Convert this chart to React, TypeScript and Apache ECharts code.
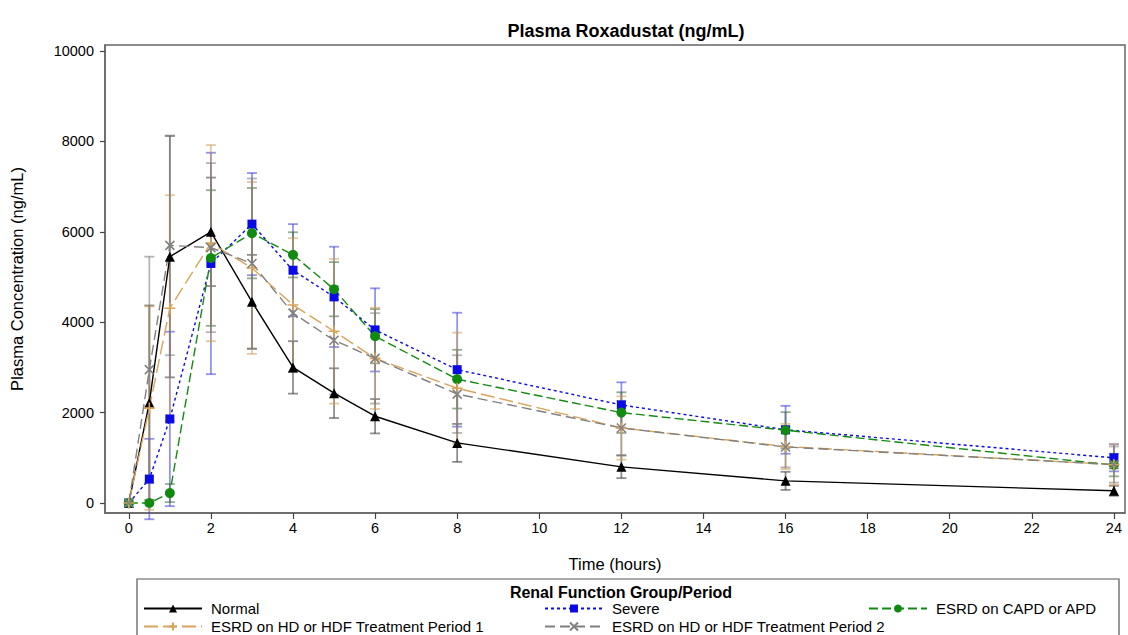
import React, { useEffect, useRef } from "react";
import * as echarts from "echarts";

// Sampling times (hours after dose)
const hours = [0, 0.5, 1, 2, 3, 4, 5, 6, 8, 12, 16, 24];

// Mean plasma concentration (ng/mL) and SD per renal function group
const normalMean = [0, 2220, 5450, 6000, 4450, 3000, 2430, 1920, 1330, 800, 490, 270];
const normalSD = [0, 2150, 2670, 1200, 1040, 580, 550, 380, 420, 250, 200, 110];

const severeMean = [0, 530, 1860, 5300, 6170, 5150, 4560, 3830, 2950, 2170, 1620, 1000];
const severeSD = [0, 890, 1930, 2450, 1130, 1020, 1110, 920, 1260, 500, 530, 300];

const capdMean = [0, 0, 220, 5420, 5970, 5490, 4730, 3690, 2740, 2000, 1610, 840];
const capdSD = [0, 0, 200, 1500, 1000, 500, 600, 600, 650, 450, 400, 250];

const hd1Mean = [0, 2100, 4310, 5750, 5200, 4380, 3800, 3200, 2540, 1660, 1250, 850];
const hd1SD = [0, 2250, 2500, 2170, 1900, 1480, 1600, 1120, 1230, 700, 500, 450];

const hd2Mean = [0, 2950, 5700, 5650, 5300, 4200, 3600, 3200, 2410, 1660, 1240, 850];
const hd2SD = [0, 2500, 2430, 1870, 1880, 1300, 1200, 1000, 860, 600, 450, 400];

const xTicks = [0, 2, 4, 6, 8, 10, 12, 14, 16, 18, 20, 22, 24];
const yTicks = [0, 2000, 4000, 6000, 8000, 10000];

const FONT = "Liberation Sans, Arial, sans-serif";

type Group = {
  name: string;
  mean: number[];
  sd: number[];
  color: string;
  barColor: string;
  dash: number[] | "solid";
  symbol: string;
  symbolSize: number;
  hollow?: boolean;
};

const groups: Group[] = [
  { name: "Normal", mean: normalMean, sd: normalSD, color: "#000000", barColor: "#333333", dash: "solid", symbol: "triangle", symbolSize: 10 },
  { name: "Severe", mean: severeMean, sd: severeSD, color: "#0a0ae6", barColor: "#3a3ad8", dash: [3, 3], symbol: "rect", symbolSize: 9 },
  { name: "ESRD on CAPD or APD", mean: capdMean, sd: capdSD, color: "#128a12", barColor: "#3a6a3a", dash: [9, 4], symbol: "circle", symbolSize: 10 },
  { name: "ESRD on HD or HDF Treatment Period 1", mean: hd1Mean, sd: hd1SD, color: "#d9a35a", barColor: "#cf9a52", dash: [14, 5], symbol: "path://M5,0L5,10M0,5L10,5", symbolSize: 11, hollow: true },
  { name: "ESRD on HD or HDF Treatment Period 2", mean: hd2Mean, sd: hd2SD, color: "#808080", barColor: "#7a7a7a", dash: [10, 5], symbol: "path://M0,0L10,10M10,0L0,10", symbolSize: 9, hollow: true },
];

export default function App() {
  const ref = useRef<HTMLDivElement>(null);

  useEffect(() => {
    if (!ref.current) return;
    const chart = echarts.init(ref.current, null, { renderer: "svg" });

    const lineSeries = groups.map((g) => ({
      name: g.name,
      type: "line",
      data: hours.map((h, i) => [h, g.mean[i]]),
      z: 5,
      symbol: g.symbol,
      symbolSize: g.symbolSize,
      lineStyle: { color: g.color, width: 1.4, type: g.dash },
      itemStyle: g.hollow
        ? { color: "rgba(0,0,0,0)", borderColor: g.color, borderWidth: 1.6 }
        : { color: g.color, borderWidth: 0 },
    }));

    const barSeries = groups.map((g) => ({
      name: g.name + " SD",
      type: "custom",
      z: 3,
      data: hours
        .map((h, i) => [h, g.mean[i] - g.sd[i], g.mean[i] + g.sd[i], g.sd[i]])
        .filter((d) => d[3] > 0),
      encode: { x: 0, y: [1, 2] },
      renderItem: (params: any, api: any) => {
        const x = api.value(0);
        const top = api.coord([x, api.value(2)]);
        const bot = api.coord([x, api.value(1)]);
        const w = 5;
        const style = { stroke: g.barColor, lineWidth: 1.8, opacity: 0.55 };
        return {
          type: "group",
          children: [
            { type: "line", shape: { x1: top[0], y1: top[1], x2: bot[0], y2: bot[1] }, style },
            { type: "line", shape: { x1: top[0] - w, y1: top[1], x2: top[0] + w, y2: top[1] }, style },
            { type: "line", shape: { x1: bot[0] - w, y1: bot[1], x2: bot[0] + w, y2: bot[1] }, style },
          ],
        };
      },
    }));

    const legendPos = [
      { left: 143, top: 601 },
      { left: 544, top: 601 },
      { left: 868, top: 601 },
      { left: 143, top: 619 },
      { left: 544, top: 619 },
    ];

    chart.setOption({
      animation: false,
      textStyle: { fontFamily: FONT },
      title: {
        text: "Plasma Roxadustat (ng/mL)",
        left: 621,
        top: 17,
        textAlign: "center",
        textStyle: { fontSize: 18, fontWeight: "bold", color: "#000", fontFamily: FONT },
      },
      legend: groups.map((g, i) => ({
        data: [g.name],
        left: legendPos[i].left,
        top: legendPos[i].top,
        itemWidth: 58,
        itemHeight: 10,
        padding: 0,
        textStyle: { fontSize: 15, color: "#000", fontFamily: FONT, padding: [0, 0, 0, 4] },
        selectedMode: false,
      })),
      grid: {
        left: 103,
        top: 45,
        width: 1022,
        height: 468,
        show: true,
        borderColor: "#666",
        borderWidth: 1.5,
        backgroundColor: "#fff",
      },
      xAxis: {
        type: "value",
        min: -0.58,
        max: 24.27,
        name: "Time (hours)",
        nameLocation: "middle",
        nameGap: 42,
        nameTextStyle: { fontSize: 16.5, color: "#000", fontFamily: FONT },
        axisLine: { show: true, onZero: false, lineStyle: { color: "#666", width: 1.5 } },
        axisTick: { show: true, length: 6, customValues: xTicks, lineStyle: { color: "#444", width: 1.2 } },
        axisLabel: { customValues: xTicks, fontSize: 14.5, color: "#000", margin: 7, fontFamily: FONT },
        splitLine: { show: false },
      },
      yAxis: {
        type: "value",
        min: -221,
        max: 10133,
        name: "Plasma Concentration (ng/mL)",
        nameLocation: "middle",
        nameGap: 80,
        nameTextStyle: { fontSize: 16.5, color: "#000", fontFamily: FONT },
        axisLine: { show: true, onZero: false, lineStyle: { color: "#666", width: 1.5 } },
        axisTick: { show: true, length: 5, customValues: yTicks, lineStyle: { color: "#444", width: 1.2 } },
        axisLabel: {
          customValues: yTicks,
          fontSize: 14.5,
          color: "#000",
          margin: 11,
          fontFamily: FONT,
          formatter: (v: number) => String(v),
        },
        splitLine: { show: false },
      },
      graphic: [
        {
          type: "rect",
          shape: { x: 137, y: 579, width: 982, height: 70 },
          style: { fill: "none", stroke: "#555", lineWidth: 1.2 },
          z: -1,
        },
        {
          type: "text",
          x: 621,
          y: 592,
          style: {
            text: "Renal Function Group/Period",
            fontSize: 16,
            fontWeight: "bold",
            fill: "#000",
            fontFamily: FONT,
            align: "center",
            verticalAlign: "middle",
          },
        },
      ],
      series: [...barSeries, ...lineSeries],
    });

    return () => chart.dispose();
  }, []);

  return <div ref={ref} style={{ width: 1128, height: 635, position: "absolute", left: 0, top: 0, background: "#fff" }} />;
}
